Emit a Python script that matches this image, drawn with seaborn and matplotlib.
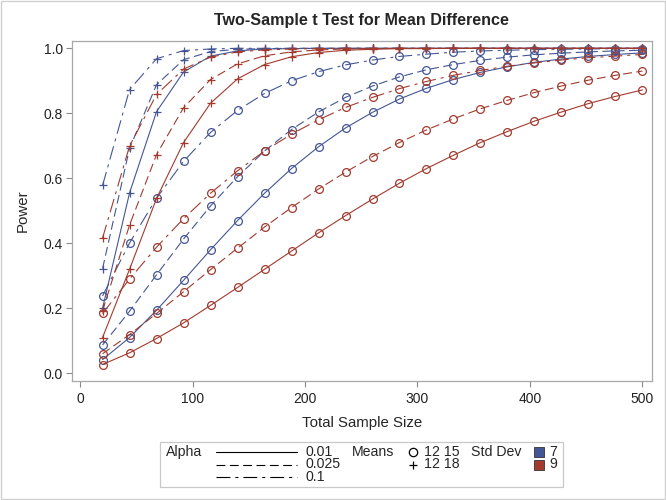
import pandas as pd
import seaborn as sns
import matplotlib
matplotlib.use("Agg")
import matplotlib.pyplot as plt
from matplotlib.lines import Line2D
from matplotlib.patches import Rectangle

# total sample size (x)
n_total = [20, 44, 68, 92, 116, 140, 164, 188, 212, 236, 260, 284, 308, 332, 356, 380, 404, 428, 452, 476, 500]

# power: alpha / means / std dev
pow_a01_m15_sd7 = [0.042, 0.110, 0.194, 0.286, 0.380, 0.470, 0.554, 0.630, 0.697, 0.755, 0.803, 0.844, 0.877, 0.904, 0.926, 0.943, 0.957, 0.967, 0.975, 0.981, 0.986]
pow_a01_m15_sd9 = [0.027, 0.063, 0.107, 0.155, 0.209, 0.264, 0.320, 0.376, 0.432, 0.485, 0.536, 0.585, 0.630, 0.671, 0.710, 0.744, 0.776, 0.804, 0.830, 0.852, 0.872]
pow_a01_m18_sd7 = [0.200, 0.555, 0.805, 0.927, 0.976, 0.992, 0.998, 0.999, 1.0, 1.0, 1.0, 1.0, 1.0, 1.0, 1.0, 1.0, 1.0, 1.0, 1.0, 1.0, 1.0]
pow_a01_m18_sd9 = [0.110, 0.320, 0.538, 0.710, 0.831, 0.906, 0.950, 0.974, 0.987, 0.994, 0.997, 0.999, 0.999, 1.0, 1.0, 1.0, 1.0, 1.0, 1.0, 1.0, 1.0]
pow_a025_m15_sd7 = [0.087, 0.191, 0.303, 0.413, 0.515, 0.605, 0.684, 0.750, 0.804, 0.849, 0.884, 0.912, 0.934, 0.950, 0.963, 0.973, 0.980, 0.985, 0.989, 0.992, 0.994]
pow_a025_m15_sd9 = [0.060, 0.119, 0.184, 0.251, 0.319, 0.385, 0.450, 0.510, 0.567, 0.619, 0.667, 0.710, 0.749, 0.783, 0.814, 0.840, 0.864, 0.884, 0.902, 0.917, 0.930]
pow_a025_m18_sd7 = [0.322, 0.692, 0.888, 0.965, 0.990, 0.997, 0.999, 1.0, 1.0, 1.0, 1.0, 1.0, 1.0, 1.0, 1.0, 1.0, 1.0, 1.0, 1.0, 1.0, 1.0]
pow_a025_m18_sd9 = [0.192, 0.456, 0.673, 0.817, 0.904, 0.952, 0.977, 0.989, 0.995, 0.998, 0.999, 1.0, 1.0, 1.0, 1.0, 1.0, 1.0, 1.0, 1.0, 1.0, 1.0]
pow_a10_m15_sd7 = [0.238, 0.401, 0.539, 0.652, 0.741, 0.809, 0.861, 0.900, 0.928, 0.949, 0.964, 0.975, 0.982, 0.988, 0.992, 0.994, 0.996, 0.997, 0.998, 0.999, 0.999]
pow_a10_m15_sd9 = [0.184, 0.290, 0.388, 0.476, 0.554, 0.623, 0.684, 0.736, 0.780, 0.818, 0.849, 0.876, 0.898, 0.917, 0.932, 0.945, 0.955, 0.964, 0.971, 0.976, 0.981]
pow_a10_m18_sd7 = [0.578, 0.873, 0.968, 0.993, 0.998, 1.0, 1.0, 1.0, 1.0, 1.0, 1.0, 1.0, 1.0, 1.0, 1.0, 1.0, 1.0, 1.0, 1.0, 1.0, 1.0]
pow_a10_m18_sd9 = [0.416, 0.699, 0.858, 0.936, 0.973, 0.989, 0.995, 0.998, 0.999, 1.0, 1.0, 1.0, 1.0, 1.0, 1.0, 1.0, 1.0, 1.0, 1.0, 1.0, 1.0]

alphas = ["0.01", "0.025", "0.1"]
means = ["12 15", "12 18"]
std_devs = ["7", "9"]

series = {
    ("0.01", "12 15", "7"): pow_a01_m15_sd7,
    ("0.01", "12 15", "9"): pow_a01_m15_sd9,
    ("0.01", "12 18", "7"): pow_a01_m18_sd7,
    ("0.01", "12 18", "9"): pow_a01_m18_sd9,
    ("0.025", "12 15", "7"): pow_a025_m15_sd7,
    ("0.025", "12 15", "9"): pow_a025_m15_sd9,
    ("0.025", "12 18", "7"): pow_a025_m18_sd7,
    ("0.025", "12 18", "9"): pow_a025_m18_sd9,
    ("0.1", "12 15", "7"): pow_a10_m15_sd7,
    ("0.1", "12 15", "9"): pow_a10_m15_sd9,
    ("0.1", "12 18", "7"): pow_a10_m18_sd7,
    ("0.1", "12 18", "9"): pow_a10_m18_sd9,
}

rows = []
for (a, m, s), vals in series.items():
    for n, p in zip(n_total, vals):
        rows.append({"N": n, "Power": p, "Alpha": a, "Means": m, "Std Dev": s})
df = pd.DataFrame(rows)

sns.set_theme(style="ticks")
plt.rcParams["font.family"] = ["Liberation Sans", "DejaVu Sans"]

blue = "#445694"
red = "#A23A2E"
palette = {"7": blue, "9": red}
lw = 0.8
dash_map = {"0.01": "", "0.025": (8, 4), "0.1": (12.5, 4.5, 2.7, 4.5)}
marker_map = {"12 15": "o", "12 18": "+"}

fig = plt.figure(figsize=(6.66, 5.0), dpi=100)
ax = fig.add_axes([0.1077, 0.2386, 0.8708, 0.6794])

# one call per marker type (seaborn won't mix filled and line-art markers)
for m in means:
    sub = df[df["Means"] == m]
    sns.lineplot(data=sub, x="N", y="Power", hue="Std Dev", style="Alpha",
                 palette=palette, dashes=dash_map,
                 markers={a: marker_map[m] for a in alphas},
                 estimator=None, linewidth=lw, markersize=5.6, legend=False, ax=ax)

for ln in ax.lines:
    ln.set_markerfacecolor("none")
    ln.set_markeredgecolor(ln.get_color())
    ln.set_markeredgewidth(0.9)

ax.set_xlim(-7.4, 508.2)
ax.set_ylim(-0.0228, 1.0225)
ax.set_xticks([0, 100, 200, 300, 400, 500])
ax.set_yticks([0.0, 0.2, 0.4, 0.6, 0.8, 1.0])
ax.set_yticklabels([f"{v:.1f}" for v in [0.0, 0.2, 0.4, 0.6, 0.8, 1.0]])
ax.tick_params(axis="both", labelsize=10, length=4.3, width=0.8, color="#8a8a8a", labelcolor="#222222")
ax.tick_params(axis="x", pad=4)
ax.tick_params(axis="y", pad=2)
for sp in ax.spines.values():
    sp.set_visible(True)
    sp.set_color("#a8a8a8")
    sp.set_linewidth(0.9)
ax.set_xlabel("Total Sample Size", fontsize=10.8, labelpad=7)
ax.set_ylabel("Power", fontsize=10.8, labelpad=10)
fig.text(0.543, 0.96, "Two-Sample t Test for Mean Difference", ha="center", va="center",
         fontsize=11.6, fontweight="bold")

# legend drawn by hand (three separate keys like the original)
W, H = 666.0, 500.0
def fx(px):
    return px / W
def fy(py):
    return 1 - py / H

fig.patches.append(Rectangle((fx(160), fy(487)), fx(563) - fx(160), fy(442) - fy(487),
                             transform=fig.transFigure, fill=False, edgecolor="#c8c8c8", linewidth=0.9))
fs = 10.2
rows_y = [452, 464.5, 477]
fig.text(fx(166), fy(rows_y[0]), "Alpha", fontsize=fs, va="center")
for a, yy in zip(alphas, rows_y):
    ln = Line2D([fx(216), fx(297)], [fy(yy), fy(yy)], transform=fig.transFigure,
                color="black", linewidth=lw)
    if dash_map[a]:
        ln.set_dashes(dash_map[a])
    fig.lines.append(ln)
    fig.text(fx(306), fy(yy), a, fontsize=fs, va="center")

fig.text(fx(352), fy(rows_y[0]), "Means", fontsize=fs, va="center")
for m, yy in zip(means, rows_y):
    fig.lines.append(Line2D([fx(412.5)], [fy(yy)], transform=fig.transFigure, linestyle="none",
                            marker=marker_map[m], markersize=6, markerfacecolor="none",
                            markeredgecolor="black", markeredgewidth=0.9))
    fig.text(fx(424), fy(yy), m, fontsize=fs, va="center")

fig.text(fx(471), fy(rows_y[0]), "Std Dev", fontsize=fs, va="center")
for s, yy in zip(std_devs, rows_y):
    fig.lines.append(Line2D([fx(539)], [fy(yy)], transform=fig.transFigure, linestyle="none",
                            marker="s", markersize=6.5, markerfacecolor=palette[s],
                            markeredgecolor="#333333", markeredgewidth=0.6))
    fig.text(fx(549), fy(yy), s, fontsize=fs, va="center")

# thin outer frame of the image
fig.patches.append(Rectangle((0.002, 0.002), 0.996, 0.996, transform=fig.transFigure,
                             fill=False, edgecolor="#d0d0d0", linewidth=1.0))

fig.savefig("out.png", dpi=100)
